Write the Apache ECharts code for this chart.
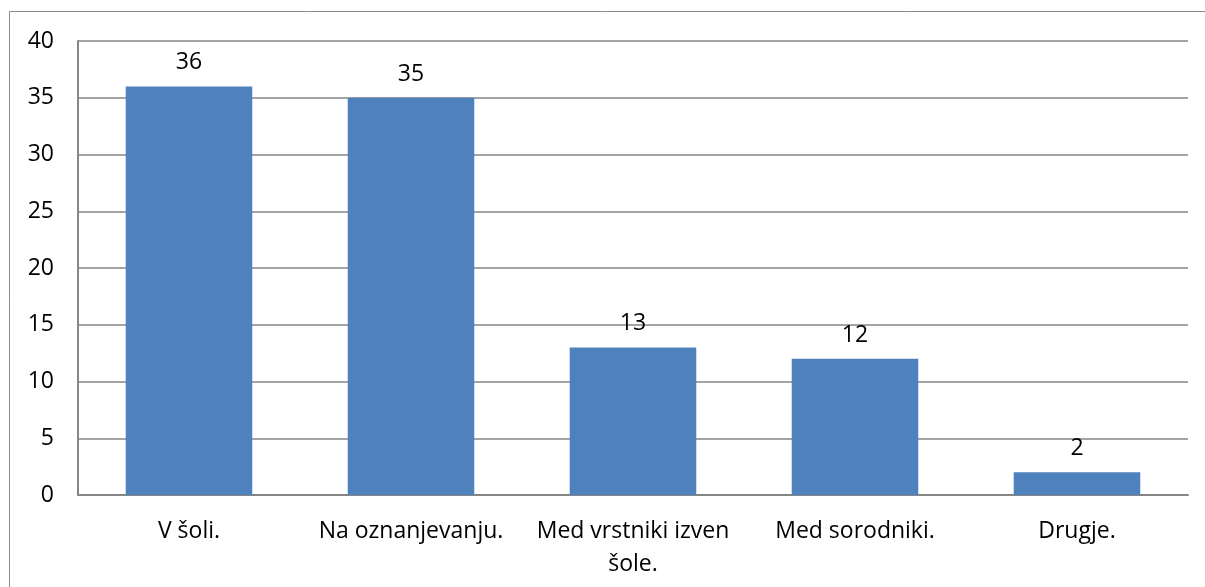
<!DOCTYPE html>
<html>
<head>
<meta charset="utf-8">
<script src="https://cdn.jsdelivr.net/npm/echarts@6/dist/echarts.min.js"></script>
<style>
  html, body { margin: 0; padding: 0; background: #fff; }
  #chart { width: 1205px; height: 587px; }
</style>
</head>
<body>
<div id="chart"></div>
<script>
// categories and values
const categories = ['V šoli.', 'Na oznanjevanju.', 'Med vrstniki izven\nšole.', 'Med sorodniki.', 'Drugje.'];
const values = [36, 35, 13, 12, 2];

const chart = echarts.init(document.getElementById('chart'));

const fontFamily = '"Open Sans", "Liberation Sans", sans-serif';
const fontSize = 23;

chart.setOption({
  animation: false,
  backgroundColor: '#fff',
  // outer frame of the chart object
  graphic: [{
    type: 'rect',
    shape: { x: 9.5, y: 11.5, width: 1220, height: 600 },
    style: { fill: 'none', stroke: '#8c8c8c', lineWidth: 1 },
    silent: true
  }],
  grid: { left: 78, right: 17, top: 41, bottom: 92 },
  xAxis: {
    type: 'category',
    data: categories,
    axisTick: { show: false },
    axisLine: { lineStyle: { color: '#868686', width: 2 } },
    axisLabel: {
      color: '#000', fontSize: fontSize, fontFamily: fontFamily,
      margin: 20, lineHeight: 33, interval: 0
    }
  },
  yAxis: {
    type: 'value',
    min: 0, max: 40, interval: 5,
    axisLine: { show: true, lineStyle: { color: '#868686', width: 2 } },
    axisTick: { show: false },
    splitLine: { lineStyle: { color: '#868686', width: 1.5 } },
    axisLabel: { color: '#000', fontSize: fontSize, fontFamily: fontFamily, margin: 24 }
  },
  series: [{
    type: 'bar',
    data: values,
    barCategoryGap: '43%',
    itemStyle: { color: '#4f81bd' },
    label: {
      show: true, position: 'top', distance: 12,
      color: '#000', fontSize: fontSize, fontFamily: fontFamily
    }
  }]
});
</script>
</body>
</html>
